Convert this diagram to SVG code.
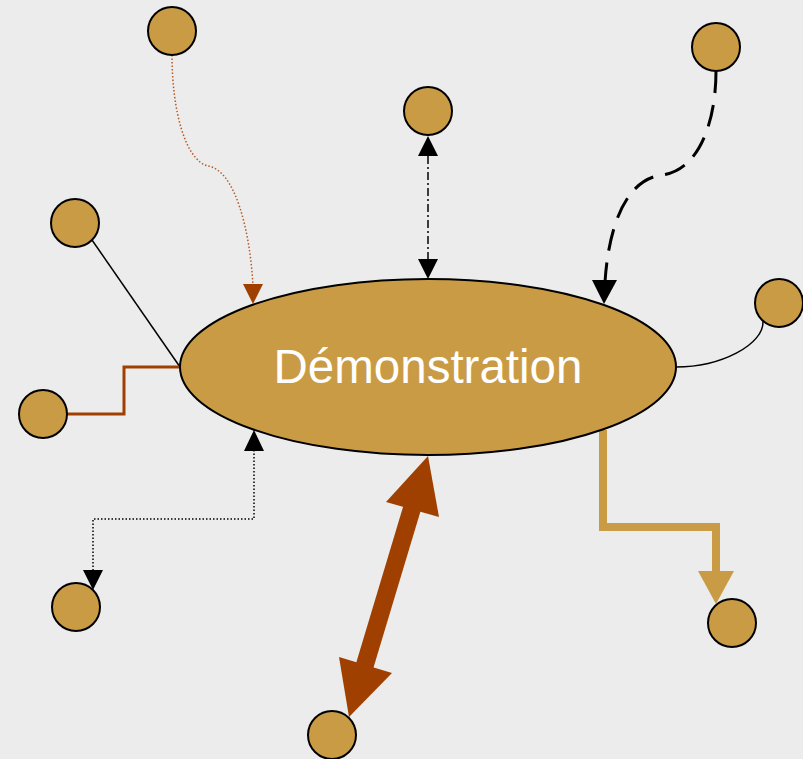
<svg xmlns="http://www.w3.org/2000/svg" width="803" height="759" viewBox="0 0 803 759">
<style>
.node{fill:#c99b45;stroke:#000;stroke-width:2}
.lbl{font-family:"Liberation Sans",Arial,sans-serif;font-size:47.5px;fill:#fff;text-anchor:middle}
.c{fill:none}
.dot{stroke-width:1.5;stroke-dasharray:1.5,2}
</style>
<rect width="803" height="759" fill="#ececec"/>
<g id="connectors">
<path class="c dot" d="M172,55 C172,110 185,160 208,166 C235,170 250,230 253,286" stroke="#b85a20"/>
<polygon points="243,284 263,284 253,304" fill="#a04000"/>
<path class="c" d="M428,156 L428,259" stroke="#000" stroke-width="1.5" stroke-dasharray="8,3,2,3"/>
<polygon points="418,156 438,156 428,136" fill="#000"/>
<polygon points="418,259 438,259 428,279" fill="#000"/>
<path class="c" d="M716,71 C716,120 700,170 662,175 C622,180 608,235 605,282" stroke="#000" stroke-width="3" stroke-dasharray="22,12"/>
<polygon points="592,280 617,280 604,304" fill="#000"/>
<path class="c" d="M92,240 L180,367" stroke="#000" stroke-width="1.5"/>
<path class="c" d="M763,320 C765,345 720,367 676,367" stroke="#000" stroke-width="1.5"/>
<path class="c" d="M67,414 L124,414 L124,367 L180,367" stroke="#a04000" stroke-width="3"/>
<path class="c dot" d="M254,450 L254,519 L93,519 L93,570" stroke="#000"/>
<polygon points="244,451 264,451 254,430" fill="#000"/>
<polygon points="83,570 103,570 93,590" fill="#000"/>
<path class="c" d="M603,430 L603,527 L716,527 L716,572" stroke="#c99b45" stroke-width="8"/>
<polygon points="698,571 734,571 716,604" fill="#c99b45"/>
<path class="c" d="M413,505 L364,668" stroke="#a04000" stroke-width="18"/>
<polygon points="428,456 386,502 439,517" fill="#a04000"/>
<polygon points="349,717 339,657 392,673" fill="#a04000"/>
</g>
<g id="center"><ellipse class="node" cx="428" cy="367" rx="248" ry="88"/><text class="lbl" x="428" y="383">Démonstration</text></g>
<g id="n1"><circle class="node" cx="172" cy="31" r="24"/></g>
<g id="n2"><circle class="node" cx="428" cy="111" r="24"/></g>
<g id="n3"><circle class="node" cx="716" cy="47" r="24"/></g>
<g id="n4"><circle class="node" cx="75" cy="223" r="24"/></g>
<g id="n5"><circle class="node" cx="779" cy="303" r="24"/></g>
<g id="n6"><circle class="node" cx="43" cy="414" r="24"/></g>
<g id="n7"><circle class="node" cx="76" cy="607" r="24"/></g>
<g id="n8"><circle class="node" cx="732" cy="623" r="24"/></g>
<g id="n9"><circle class="node" cx="332" cy="735" r="24"/></g>
</svg>
